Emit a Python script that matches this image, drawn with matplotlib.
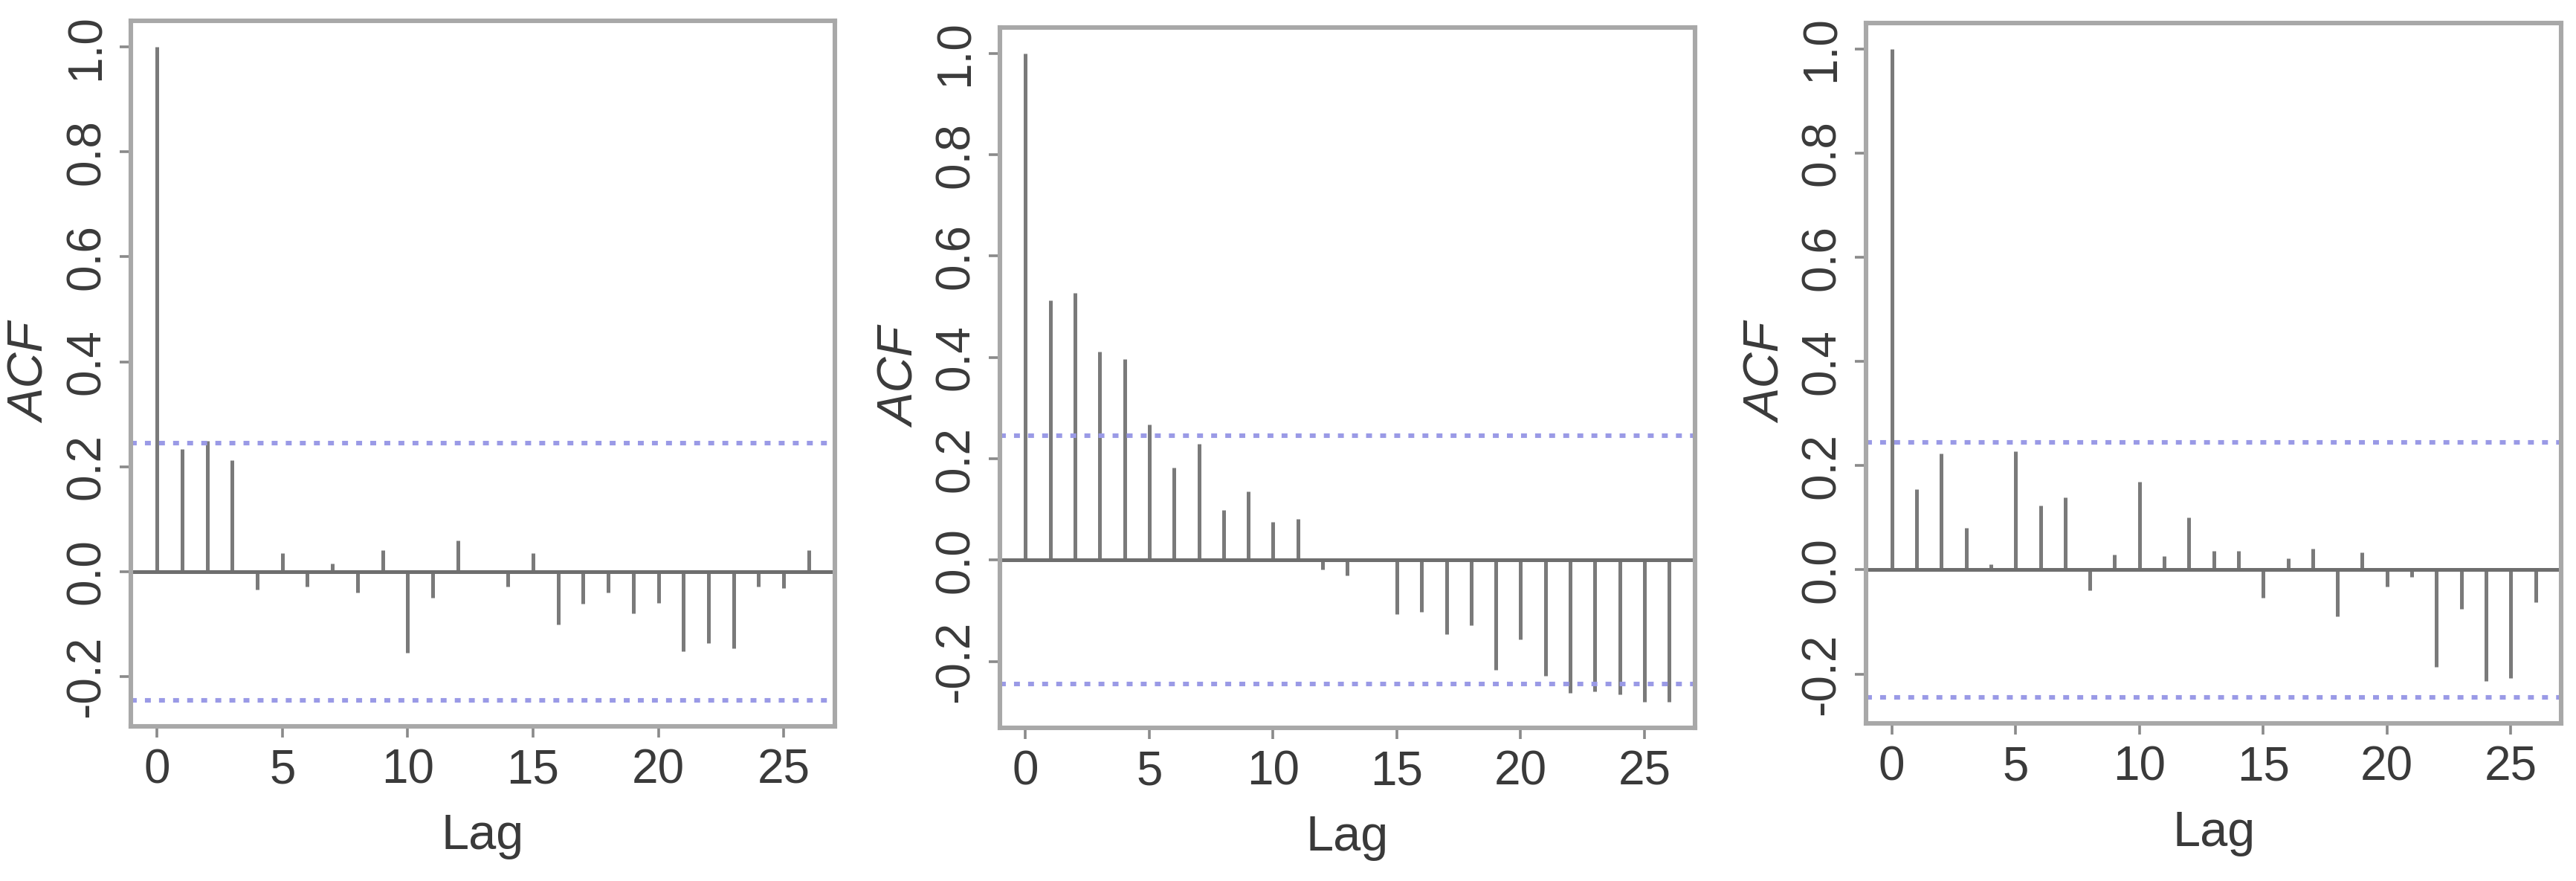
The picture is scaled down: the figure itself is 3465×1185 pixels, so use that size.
import numpy as np
import matplotlib
matplotlib.use("Agg")
from matplotlib import pyplot as plt

plt.rcParams["font.family"] = ["Liberation Sans", "DejaVu Sans"]
plt.rcParams["axes.unicode_minus"] = False

# acf values, lag 0..26
lags = np.arange(27)
acf_a = [1.0, 0.233, 0.249, 0.212, -0.034, 0.035, -0.029, 0.016, -0.040, 0.041,
         -0.155, -0.050, 0.059, 0.003, -0.029, 0.035, -0.100, -0.061, -0.040,
         -0.080, -0.059, -0.152, -0.136, -0.146, -0.029, -0.031, 0.041]
acf_b = [1.0, 0.513, 0.528, 0.412, 0.397, 0.268, 0.182, 0.230, 0.099, 0.136,
         0.075, 0.081, -0.019, -0.030, -0.003, -0.107, -0.102, -0.146, -0.129,
         -0.217, -0.157, -0.228, -0.262, -0.259, -0.265, -0.280, -0.280]
acf_c = [1.0, 0.155, 0.223, 0.080, 0.011, 0.228, 0.124, 0.139, -0.039, 0.029,
         0.169, 0.027, 0.101, 0.037, 0.037, -0.054, 0.022, 0.040, -0.089, 0.034,
         -0.032, -0.014, -0.186, -0.075, -0.213, -0.208, -0.062]
ci_bound = 0.245  # 1.96 / sqrt(64)
yticks = [-0.2, 0.0, 0.2, 0.4, 0.6, 0.8, 1.0]
xticks = [0, 5, 10, 15, 20, 25]

panels = [
    (acf_a, [0.0508, 0.1755, 0.2732, 0.8009]),
    (acf_b, [0.3880, 0.1738, 0.2698, 0.7950]),
    (acf_c, [0.7242, 0.1789, 0.2698, 0.7949]),
]

fig = plt.figure(figsize=(17.33, 5.925), dpi=200)

for vals, rect in panels:
    ax = fig.add_axes(rect)
    vals = np.array(vals)
    ax.vlines(lags, 0, vals, color="#7a7a7a", lw=1.8)
    ax.axhline(0, color="#6e6e6e", lw=1.8)
    for y in (ci_bound, -ci_bound):
        ax.axhline(y, color="#9a9ae6", lw=2.2, linestyle=(0, (1.3, 1.8)))

    # R style 4% padding around the data range
    lo = min(vals.min(), -ci_bound)
    hi = max(vals.max(), ci_bound)
    pad = 0.04 * (hi - lo)
    ax.set_ylim(lo - pad, hi + pad)
    ax.set_xlim(-0.04 * lags.max(), lags.max() * 1.04)

    ax.set_xticks(xticks)
    ax.set_yticks(yticks)
    ax.set_yticklabels([f"{t:.1f}" for t in yticks], rotation=90, va="center")
    ax.tick_params(length=5.5, width=1.3, color="#8a8a8a", labelsize=23,
                   labelcolor="#3a3a3a", pad=5)
    for s in ax.spines.values():
        s.set_color("#a8a8a8")
        s.set_linewidth(2.2)

    ax.set_xlabel("Lag", fontsize=24, color="#3a3a3a", labelpad=10)
    ax.set_ylabel("ACF", fontsize=24, color="#3a3a3a", style="italic",
                  va="center")
    ax.yaxis.set_label_coords(-0.14, 0.5)

fig.savefig("out.png", dpi=200, facecolor="white")
